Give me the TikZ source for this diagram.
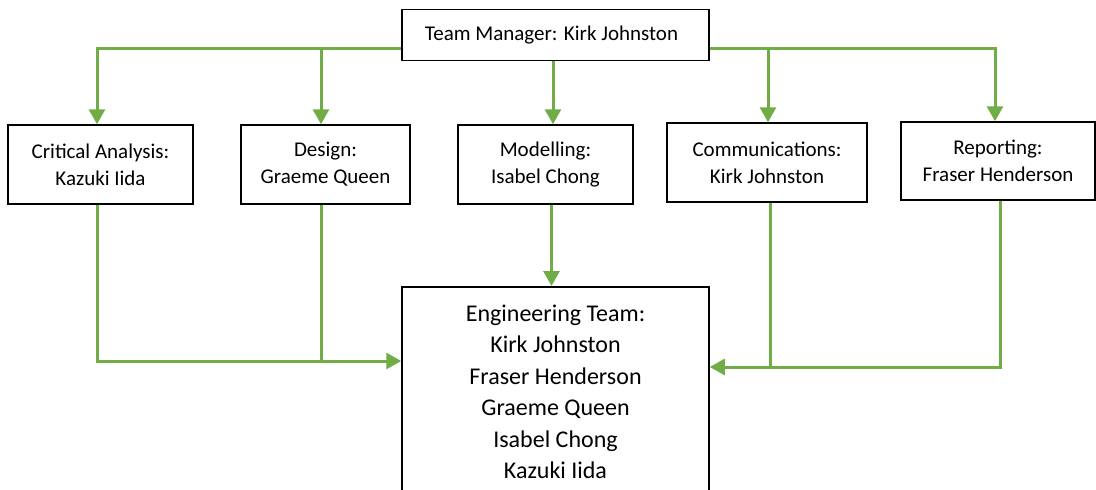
\documentclass[tikz,border=0pt]{standalone}
\usepackage{fontspec}
\setmainfont{Carlito}
\usetikzlibrary{arrows.meta}
\definecolor{lgreen}{HTML}{70AD47}
\begin{document}
\begin{tikzpicture}[x=1pt,y=-1pt,
  box/.style={draw=black,line width=1.5pt,fill=white,align=center,inner sep=0pt,
    font=\fontsize{21}{27}\selectfont},
  link/.style={draw=lgreen,line width=3pt},
  arr/.style={link,-{Triangle[length=15pt,width=16pt]}}]
\useasboundingbox (0,0) rectangle (1096,490);
\node[box,minimum width=307pt,minimum height=51pt] (tm) at (555.5,35) {Team Manager: Kirk Johnston\hspace*{8pt}};
\node[box,minimum width=185pt,minimum height=79pt] (ca) at (100.5,164.5) {Critical Analysis:\\Kazuki Iida};
\node[box,minimum width=169pt,minimum height=79pt] (de) at (325.5,164.5) {Design:\\Graeme Queen};
\node[box,minimum width=175pt,minimum height=79pt] (mo) at (545.5,164.5) {Modelling:\\Isabel Chong};
\node[box,minimum width=200pt,minimum height=79pt] (co) at (767,162.5) {Communications:\\Kirk Johnston};
\node[box,minimum width=194pt,minimum height=78pt] (re) at (998,161) {Reporting:\\Fraser Henderson};
\node[box,font=\fontsize{24}{31.5}\selectfont,anchor=north,minimum width=307pt,inner ysep=18pt] (eng) at (555.5,286)
  {Engineering Team:\\Kirk Johnston\\Fraser Henderson\\Graeme Queen\\Isabel Chong\\Kazuki Iida};
% top bus
\draw[arr] ([yshift=-13pt]tm.west) -| ([xshift=-3.5pt]ca.north);
\draw[arr] ([yshift=-13pt]tm.west) -| ([xshift=-4.5pt]de.north);
\draw[arr] ([yshift=-13pt]tm.east) -| ([xshift=1pt]co.north);
\draw[arr] ([yshift=-13pt]tm.east) -| ([xshift=-3pt]re.north);
\draw[arr] ([xshift=-2.5pt]tm.south) -- ([xshift=-2.5pt]tm.south |- mo.north);
% to engineering team
\coordinate (lin) at ([yshift=-75pt]eng.north west);
\coordinate (rin) at ([yshift=-81pt]eng.north east);
\coordinate (ded) at ([xshift=-4.5pt]de.south);
\coordinate (cod) at ([xshift=3pt]co.south);
\coordinate (mod) at ([xshift=6pt]mo.south);
\draw[arr] (mod) -- (mod |- eng.north);
\draw[arr] ([xshift=-3.5pt]ca.south) |- (lin);
\draw[link] (ded) -- (ded |- lin);
\draw[arr] ([xshift=2pt]re.south) |- (rin);
\draw[link] (cod) -- (cod |- rin);
\end{tikzpicture}
\end{document}
